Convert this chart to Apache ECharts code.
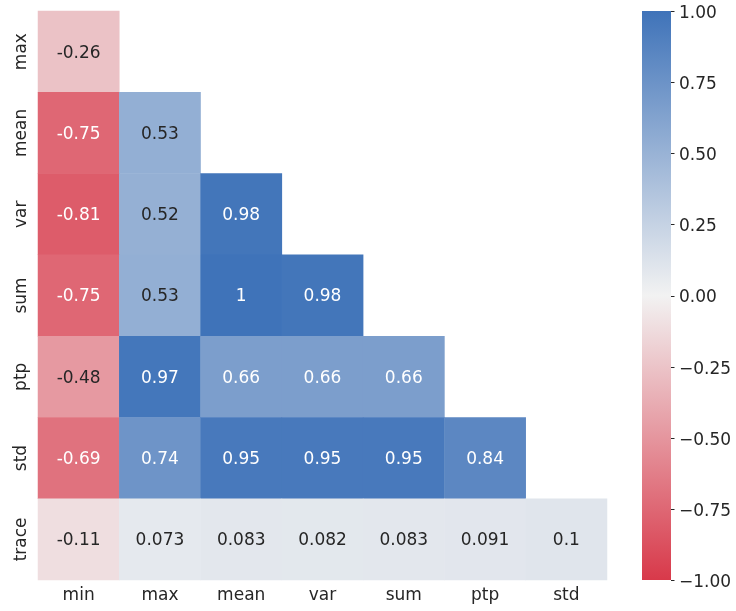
<!DOCTYPE html>
<html>
<head>
<meta charset="utf-8">
<script src="https://cdn.jsdelivr.net/npm/echarts@6/dist/echarts.min.js"></script>
<style>html,body{margin:0;padding:0;background:#fff;}#c{width:736px;height:611px;}</style>
</head>
<body>
<div id="c"></div>
<script>
const columns = ['min', 'max', 'mean', 'var', 'sum', 'ptp', 'std'];
const rows = ['max', 'mean', 'var', 'sum', 'ptp', 'std', 'trace'];
const rowMax   = [-0.26];
const rowMean  = [-0.75, 0.53];
const rowVar   = [-0.81, 0.52, 0.98];
const rowSum   = [-0.75, 0.53, 1, 0.98];
const rowPtp   = [-0.48, 0.97, 0.66, 0.66, 0.66];
const rowStd   = [-0.69, 0.74, 0.95, 0.95, 0.95, 0.84];
const rowTrace = [-0.11, 0.073, 0.083, 0.082, 0.083, 0.091, 0.1];
const colorbarTicks = [-1, -0.75, -0.5, -0.25, 0, 0.25, 0.5, 0.75, 1];
const palette = ['#d8394a', '#f2f2f2', '#3f73b9'];

const rowValues = [rowMax, rowMean, rowVar, rowSum, rowPtp, rowStd, rowTrace];
const FONT = 'DejaVu Sans';
const DARK = '#262626';
const FS = 17;

function hex2rgb(h){ return [1,3,5].map(i=>parseInt(h.substr(i,2),16)); }
function colorFor(v){
  const a = hex2rgb(palette[1]);
  const b = v < 0 ? hex2rgb(palette[0]) : hex2rgb(palette[2]);
  const t = Math.abs(v);
  return a.map((c,i)=>c + (b[i]-c)*t);
}
function lum(rgb){
  const l = rgb.map(c=>{c/=255; return c<=0.03928? c/12.92 : Math.pow((c+0.055)/1.055,2.4);});
  return 0.2126*l[0]+0.7152*l[1]+0.0722*l[2];
}
const data = [];
rowValues.forEach((vals, r) => {
  vals.forEach((v, c) => {
    data.push({
      value: [c, r, v],
      label: { color: lum(colorFor(v)) > 0.408 ? DARK : '#ffffff' }
    });
  });
});

const colorbarFill = new echarts.graphic.LinearGradient(0, 0, 0, 1, [
  { offset: 0, color: palette[2] },
  { offset: 0.5, color: palette[1] },
  { offset: 1, color: palette[0] }
]);

const chart = echarts.init(document.getElementById('c'));
chart.setOption({
  animation: false,
  backgroundColor: '#ffffff',
  grid: [
    { left: 38, top: 11, width: 569, height: 569, containLabel: false },
    { left: 642, top: 11, width: 29, height: 569, containLabel: false,
      show: true, backgroundColor: colorbarFill, borderWidth: 0 }
  ],
  xAxis: [
    { type: 'category', data: columns, gridIndex: 0,
      axisLine: { show: false }, axisTick: { show: false }, splitLine: { show: false },
      axisLabel: { color: DARK, fontFamily: FONT, fontSize: FS, margin: 7 } },
    { type: 'value', gridIndex: 1, show: false, min: 0, max: 1 }
  ],
  yAxis: [
    { type: 'category', data: rows, gridIndex: 0, inverse: true,
      axisLine: { show: false }, axisTick: { show: false }, splitLine: { show: false },
      axisLabel: { color: DARK, fontFamily: FONT, fontSize: FS, rotate: 90, margin: 8 } },
    { type: 'value', gridIndex: 1, position: 'right', min: -1, max: 1, interval: 0.25,
      axisLine: { show: false, onZero: false },
      splitLine: { show: false }, axisTick: { show: false },
      axisLabel: { color: DARK, fontFamily: FONT, fontSize: FS, margin: 8,
        formatter: v => '{v|' + (v < 0 ? '\u2212' : '') + Math.abs(v).toFixed(2) + '}',
        rich: { v: { color: DARK, fontFamily: FONT, fontSize: FS, padding: [5, 0, 0, 0] } } } }
  ],
  visualMap: {
    type: 'continuous', min: -1, max: 1, seriesIndex: 0, show: false,
    inRange: { color: palette }
  },
  series: [
    { type: 'heatmap', xAxisIndex: 0, yAxisIndex: 0, data: data,
      label: { show: true, fontFamily: FONT, fontSize: FS, offset: [0, 1.5],
        formatter: p => String(Number(p.value[2].toPrecision(2))) },
      emphasis: { disabled: true }, itemStyle: { borderWidth: 0 } }
  ]
});

// colorbar tick marks, positioned through the colorbar axis scale
const tickMarks = colorbarTicks.map(t => {
  const p = chart.convertToPixel({ xAxisIndex: 1, yAxisIndex: 1 }, [1, t]);
  const y = Math.round(p[1]) + 0.5;
  return { type: 'line', silent: true, z: 100,
    shape: { x1: p[0], y1: y, x2: p[0] + 3.5, y2: y },
    style: { stroke: DARK, lineWidth: 1 } };
});
chart.setOption({ graphic: tickMarks });
</script>
</body>
</html>
